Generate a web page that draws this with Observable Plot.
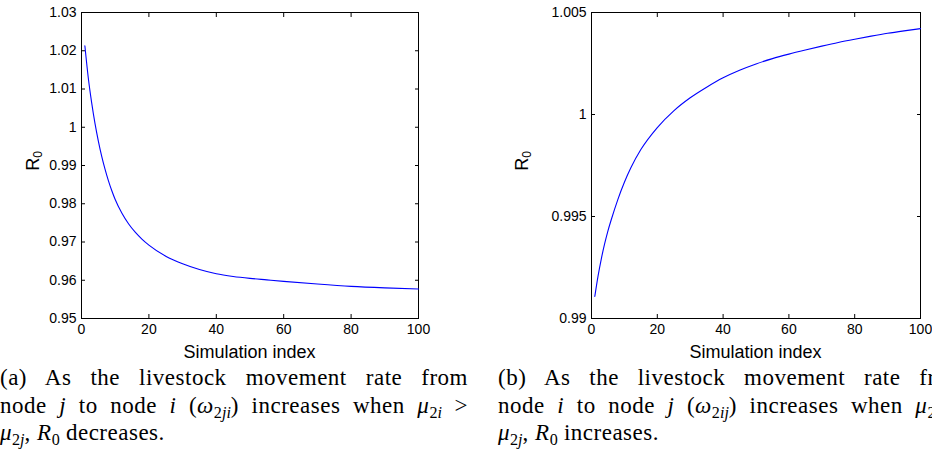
<!DOCTYPE html>
<html>
<head>
<meta charset="utf-8">
<script src="https://cdn.jsdelivr.net/npm/d3@7"></script>
<script src="https://cdn.jsdelivr.net/npm/@observablehq/plot@0.6"></script>
<style>
  html, body { margin: 0; padding: 0; background: #fff; width: 932px; height: 466px; overflow: hidden; position: relative; }
  .panel { position: absolute; top: 0; }
  .xlabel { position: absolute; font-family: "Liberation Sans", Arial, sans-serif; font-size: 18px; color: #000; white-space: nowrap; transform: translate(-50%, -50%); }
  .ylabel { position: absolute; font-family: "Liberation Sans", Arial, sans-serif; font-size: 18px; color: #000; white-space: nowrap; transform: translate(-50%, -50%) rotate(-90deg); }
  .ylabel sub { font-size: 12px; vertical-align: -0.3em; line-height: 0; }
  .caption { position: absolute; top: 364px; width: 468px; font-family: "Liberation Serif", "Times New Roman", serif; font-size: 23px; letter-spacing: 0.5px; line-height: 27.5px; color: #000; }
  .caption div { white-space: nowrap; }
  .caption .j { text-align: justify; text-align-last: justify; white-space: normal; }
  .caption sub { font-size: 70%; vertical-align: -0.28em; line-height: 0; letter-spacing: 0; }
</style>
</head>
<body>
<div id="chart"></div>
<script>
// ---- data ----
const simIndexA = [1, 2, 3, 4, 5, 6, 7, 8, 9, 10, 12, 14, 16, 18, 20, 25, 30, 35, 40, 45, 50, 55, 60, 70, 80, 90, 100];
const r0A = [1.0213, 1.0130, 1.0065, 1.0010, 0.9964, 0.9924, 0.9890, 0.9860, 0.9834, 0.9811, 0.9775, 0.9747, 0.9725, 0.9707, 0.9692, 0.9663, 0.9643, 0.9628, 0.9617, 0.9610, 0.9605, 0.9601, 0.9597, 0.9590, 0.9584, 0.9580, 0.9577];

const simIndexB = [1, 2, 3, 4, 5, 6, 8, 10, 12, 15, 20, 25, 30, 35, 40, 45, 50, 55, 60, 65, 70, 75, 80, 85, 90, 95, 100];
const r0B = [0.99108, 0.99209, 0.99294, 0.99367, 0.99430, 0.99484, 0.99583, 0.99668, 0.99740, 0.99828, 0.99936, 1.00018, 1.00082, 1.00134, 1.00180, 1.00217, 1.00248, 1.00274, 1.00296, 1.00316, 1.00335, 1.00353, 1.00369, 1.00384, 1.00398, 1.00410, 1.00421];

const xTicks = [0, 20, 40, 60, 80, 100];
const yTicksA = [0.95, 0.96, 0.97, 0.98, 0.99, 1.00, 1.01, 1.02, 1.03];
const yTickLabelsA = ["0.95", "0.96", "0.97", "0.98", "0.99", "1", "1.01", "1.02", "1.03"];
const yTicksB = [0.99, 0.995, 1.0, 1.005];
const yTickLabelsB = ["0.99", "0.995", "1", "1.005"];
const xLabel = "Simulation index";

function makePanel(xs, ys, yTicks, yLabels, yDomain, opts) {
  const data = xs.map((x, i) => ({x, y: ys[i]}));
  const fmt = v => yLabels[yTicks.findIndex(t => Math.abs(t - v) < 1e-9)];
  return Plot.plot({
    width: 466,
    height: 366,
    marginLeft: opts.ml,
    marginRight: opts.mr,
    marginTop: 12,
    marginBottom: 48,
    style: {fontFamily: "Liberation Sans, Arial, sans-serif", fontSize: "14px", color: "#000", background: "transparent", overflow: "visible"},
    x: {domain: [0, 100]},
    y: {domain: yDomain},
    marks: [
      Plot.frame({stroke: "#000", strokeWidth: 1}),
      Plot.axisX({ticks: xTicks, anchor: "bottom", tickSize: -4, tickPadding: 10, label: null, tickFormat: d => String(d)}),
      Plot.axisX({ticks: xTicks, anchor: "top", tickSize: -4, label: null, tickFormat: () => ""}),
      Plot.axisY({ticks: yTicks, anchor: "left", tickSize: -4, tickPadding: 9, label: null, tickFormat: fmt}),
      Plot.axisY({ticks: yTicks, anchor: "right", tickSize: -4, label: null, tickFormat: () => ""}),
      Plot.line(data, {x: "x", y: "y", stroke: "#0000ff", strokeWidth: 1.1, curve: "monotone-x"})
    ]
  });
}

const root = document.getElementById("chart");

const pA = makePanel(simIndexA, r0A, yTicksA, yTickLabelsA, [0.95, 1.03], {ml: 81, mr: 48});
pA.classList.add("panel"); pA.style.left = "0px";
root.appendChild(pA);

const pB = makePanel(simIndexB, r0B, yTicksB, yTickLabelsB, [0.99, 1.005], {ml: 125, mr: 12});
pB.classList.add("panel"); pB.style.left = "466px";
root.appendChild(pB);

function addDiv(cls, html, left, top) {
  const d = document.createElement("div");
  d.className = cls;
  d.innerHTML = html;
  d.style.left = left + "px";
  if (top != null) d.style.top = top + "px";
  document.body.appendChild(d);
  return d;
}

addDiv("xlabel", xLabel, 249.5, 352);
addDiv("xlabel", xLabel, 755.5, 352);
addDiv("ylabel", "R<sub>0</sub>", 33, 161);
addDiv("ylabel", "R<sub>0</sub>", 522, 161);

addDiv("caption",
  '<div class="j">(a) As the livestock movement rate from</div>' +
  '<div class="j">node <i>j</i> to node <i>i</i> (<i>ω</i><sub>2<i>ji</i></sub>) increases when <i>μ</i><sub>2<i>i</i></sub> &gt;</div>' +
  '<div><i>μ</i><sub>2<i>j</i></sub>, <i>R</i><sub>0</sub> decreases.</div>', 0);

addDiv("caption",
  '<div class="j">(b) As the livestock movement rate from</div>' +
  '<div class="j">node <i>i</i> to node <i>j</i> (<i>ω</i><sub>2<i>ij</i></sub>) increases when <i>μ</i><sub>2<i>i</i></sub> &gt;</div>' +
  '<div><i>μ</i><sub>2<i>j</i></sub>, <i>R</i><sub>0</sub> increases.</div>', 498);
</script>
</body>
</html>
